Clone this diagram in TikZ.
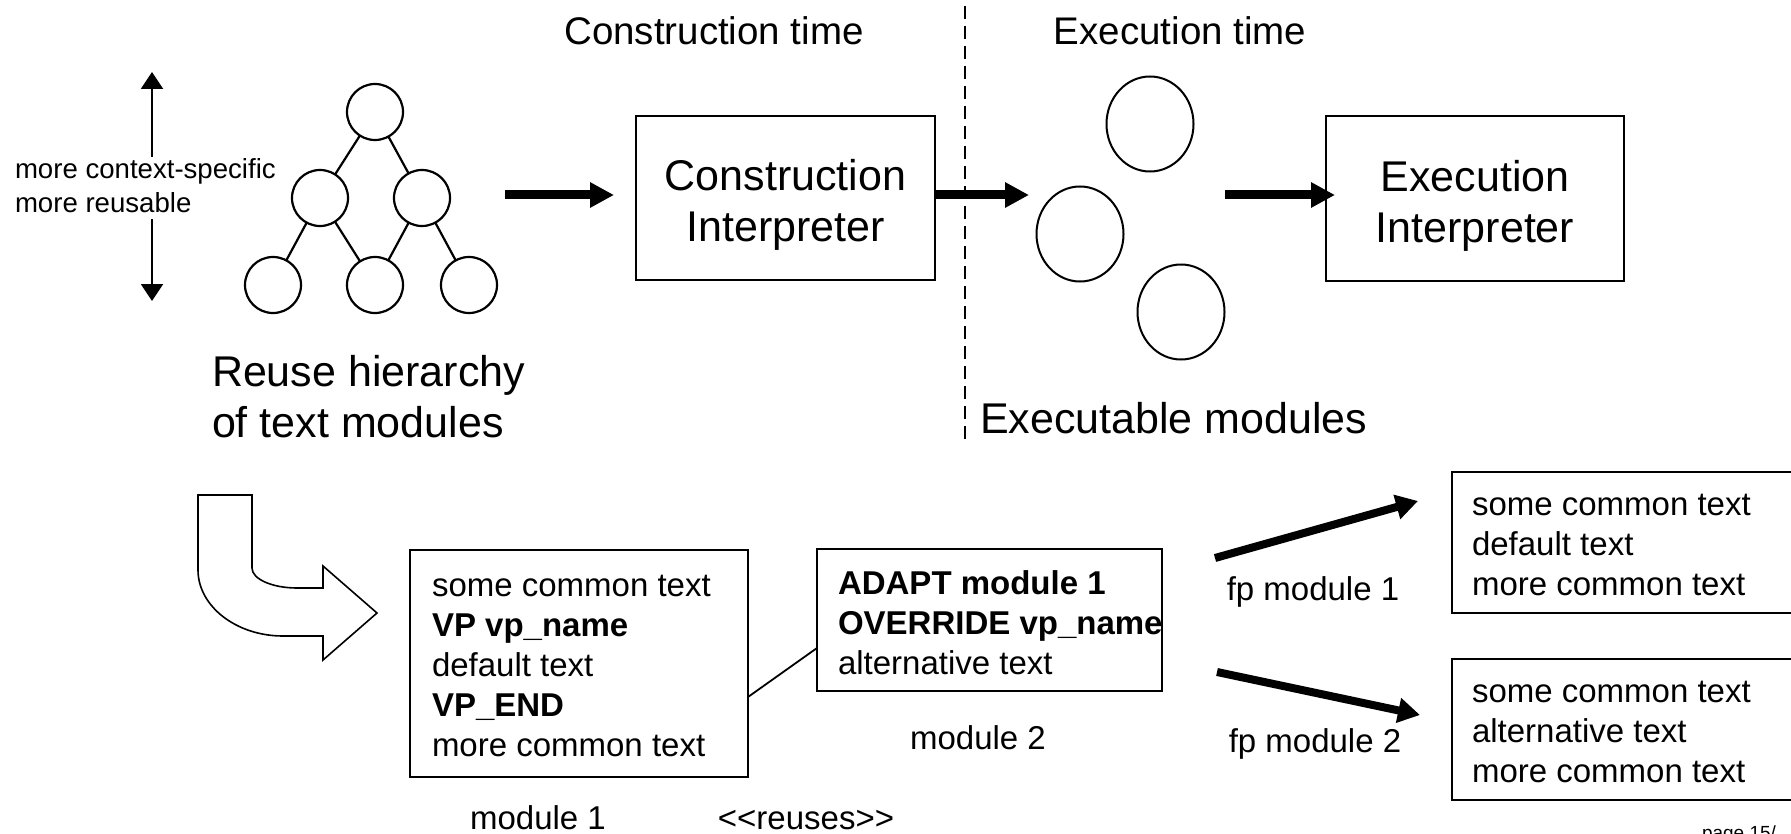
\documentclass[tikz,border=0pt]{standalone}
\usepackage{fontspec}
\setmainfont{Liberation Sans}
\usetikzlibrary{arrows.meta,shapes.geometric}

\begin{document}
\begin{tikzpicture}[x=0.5pt,y=-0.5pt,
  every node/.style={inner sep=0pt, outer sep=0pt},
  titletxt/.style={font=\fontsize{19.25pt}{23pt}\selectfont},
  bigtxt/.style={font=\fontsize{21.5pt}{25.5pt}\selectfont},
  smalltxt/.style={font=\fontsize{13.8pt}{17pt}\selectfont},
  bodytxt/.style={font=\fontsize{16.5pt}{20pt}\selectfont},
  pagetxt/.style={font=\fontsize{9.5pt}{11pt}\selectfont},
  framebox/.style={draw, line width=1.25pt, rectangle},
  treenode/.style={draw, circle, line width=1.1pt, minimum size=28pt},
  treeedge/.style={line width=1.1pt},
  modnode/.style={draw, ellipse, line width=1pt, minimum width=43.5pt, minimum height=47.5pt},
  thinarrow/.style={line width=1pt, -{Triangle[length=8.5pt,width=11pt]}},
  flowarrow/.style={line width=4.5pt, -{Triangle[length=12pt,width=12pt]}},
  fparrow/.style={line width=4pt, -{Triangle[length=11pt,width=12pt]}},
  divider/.style={line width=1pt, dash pattern=on 6.5pt off 3.5pt},
  blockarrow/.style={draw, line width=0.8pt, line join=miter},
  reuseline/.style={line width=0.9pt},
]
\useasboundingbox (0,0) rectangle (1791,834);
\clip (0,0) rectangle (1791,834);

% ---------- reuse hierarchy (tree of text modules) ----------
\node[treenode] (t0) at (375,112) {};
\node[treenode] (t1) at (320,198) {};
\node[treenode] (t2) at (422,198) {};
\node[treenode] (t3) at (273,285) {};
\node[treenode] (t4) at (375,285) {};
\node[treenode] (t5) at (469,285) {};
\draw[treeedge] (t0) -- (t1) (t0) -- (t2) (t1) -- (t3) (t1) -- (t4) (t2) -- (t4) (t2) -- (t5);

% scale on the left
\node[smalltxt, align=left, anchor=north west] (spec) at (15,159) {more context-specific\\more reusable};
\coordinate (uptip) at (152,72);
\coordinate (downtip) at (152,301);
\draw[thinarrow] ([yshift=1pt]spec.north -| uptip) -- (uptip);
\draw[thinarrow] ([yshift=-3pt]spec.south -| downtip) -- (downtip);

\node[bigtxt, align=left, anchor=north west] (reuse) at (212,355) {Reuse hierarchy\\of text modules};

% ---------- interpreters ----------
\node[titletxt, anchor=base] (ctime) at (714,45) {Construction time};
\node[titletxt, anchor=base] (etime) at (1180,45) {Execution time};

\node[framebox, minimum width=149.5pt, minimum height=82pt] (cons) at (785.5,198) {};
\node[bigtxt, align=center] (const) at ([yshift=-3.5pt]cons.center) {Construction\\Interpreter};
\node[framebox, minimum width=149pt, minimum height=82.5pt] (exec) at (1475,198.5) {};
\node[bigtxt, align=center] (exect) at ([yshift=-3.5pt]exec.center) {Execution\\Interpreter};

\coordinate (dtop) at (965,6);
\coordinate (dbot) at (965,443);
\draw[divider] (dtop) -- (dbot);

\node[modnode] (e1) at (1150,124) {};
\node[modnode] (e2) at (1080,234) {};
\node[modnode] (e3) at (1181,312) {};

\node[bigtxt, anchor=base west] (emods) at (980,433) {Executable modules};

\coordinate (f1s) at (505,195);
\coordinate (f2e) at (1029,195);
\coordinate (f3s) at (1225,195);
\coordinate (f3e) at (1335,195);
\draw[flowarrow, shorten >=11pt] (f1s) -- (f1s -| cons.west);
\draw[flowarrow] (cons.east |- f1s) -- (f2e);
\draw[flowarrow] (f3s) -- (f3e);

% ---------- example modules ----------
\draw[blockarrow] (198,495) -- (252,495) -- (252,568)
  .. controls (252,579) and (272,588) .. (297,588)
  -- (323,588) -- (323,566) -- (377,613) -- (323,660) -- (323,636) -- (283,636)
  .. controls (236,636) and (198,606) .. (198,570) -- cycle;

\node[framebox, minimum width=169pt, minimum height=113.5pt] (m1) at (579,663.5) {};
\node[bodytxt, align=left, anchor=west] (m1t) at ([xshift=11pt,yshift=-1.2pt]m1.west)
  {some common text\\\textbf{VP vp\_name}\\default text\\\textbf{VP\_END}\\more common text};

\node[framebox, minimum width=172.5pt, minimum height=71pt] (m2) at (989.5,620) {};
\node[bodytxt, align=left, anchor=west] (m2t) at ([xshift=10.5pt,yshift=-1.5pt]m2.west)
  {\textbf{ADAPT module 1}\\\textbf{OVERRIDE vp\_name}\\alternative text};

\draw[reuseline] ([yshift=-16.75pt]m1.east) -- ([yshift=-14pt]m2.west);

\node[bodytxt, anchor=base] (lm1) at (538,829) {module 1};
\node[bodytxt, anchor=base] (reuses) at (806,829) {<\kern0pt<reuses>\kern0pt>};
\node[bodytxt, anchor=base] (lm2) at (978,749) {module 2};

% flattened products
\node[framebox, minimum width=171.5pt, minimum height=70.5pt] (r1) at (1623.5,542.5) {};
\node[bodytxt, align=left, anchor=west] (r1t) at ([xshift=10pt,yshift=-1pt]r1.west)
  {some common text\\default text\\more common text};
\node[framebox, minimum width=171.5pt, minimum height=70.5pt] (r2) at (1623.5,729.5) {};
\node[bodytxt, align=left, anchor=west] (r2t) at ([xshift=10pt,yshift=-1pt]r2.west)
  {some common text\\alternative text\\more common text};

\coordinate (p1s) at (1215,558);
\coordinate (p1e) at (1418,501);
\coordinate (p2s) at (1217,672);
\coordinate (p2e) at (1420,715);
\draw[fparrow] (p1s) -- (p1e);
\draw[fparrow] (p2s) -- (p2e);

\node[bodytxt, anchor=base] (lfp1) at (1313,600) {fp module 1};
\node[bodytxt, anchor=base] (lfp2) at (1315,752) {fp module 2};

\node[pagetxt, anchor=base west] (pg) at (1702,839) {page 15/};
\end{tikzpicture}
\end{document}
